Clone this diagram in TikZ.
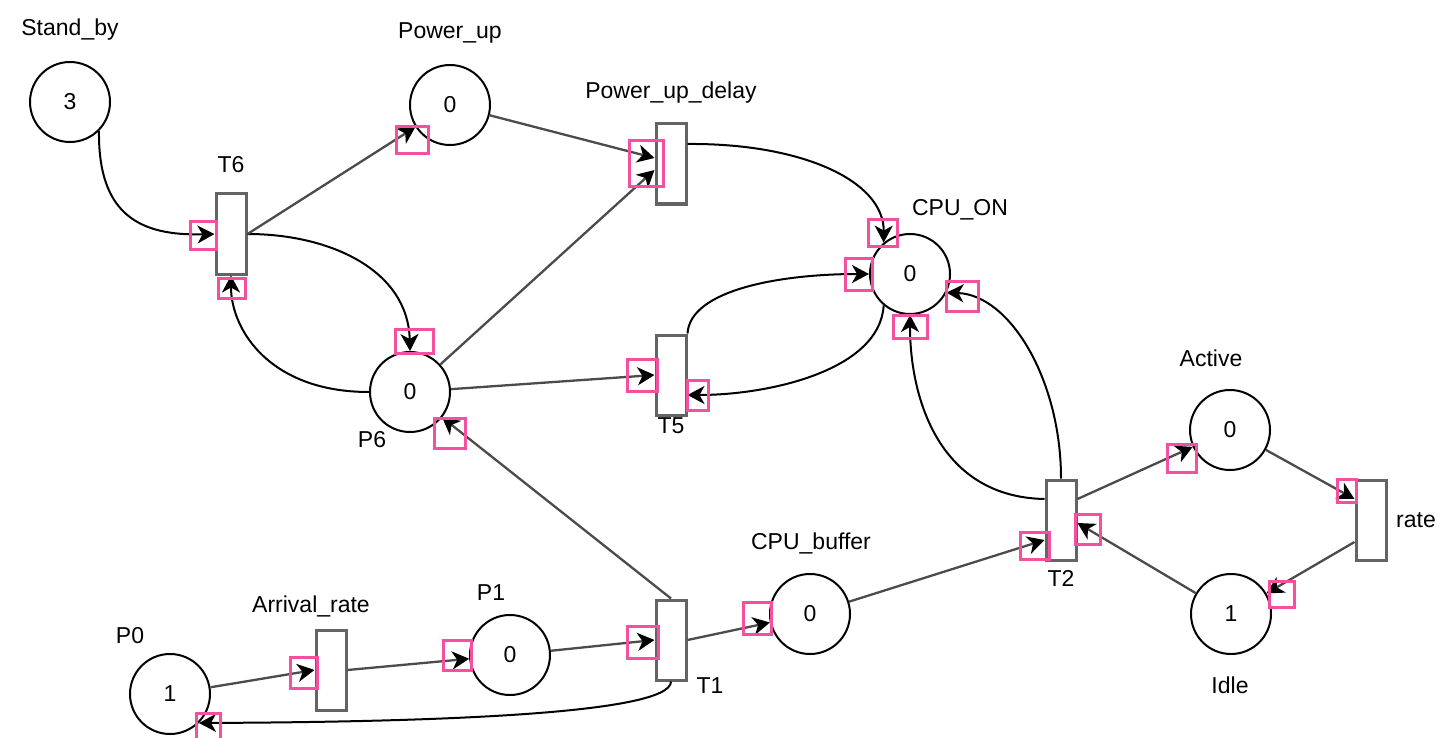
\documentclass[tikz,border=0pt]{standalone}
\usepackage{fontspec}
\setmainfont{Liberation Sans}
\usetikzlibrary{arrows.meta}
\definecolor{pinkmark}{RGB}{245,80,160}
\definecolor{edgegray}{RGB}{75,75,75}
\definecolor{transgray}{RGB}{100,100,100}
\begin{document}
\begin{tikzpicture}[x=1pt,y=-1pt,
  >={Stealth[length=17pt,width=18pt,inset=5pt,color=black]},
  place/.style={circle,draw=black,line width=2pt,minimum size=80pt,inner sep=0pt,font=\fontsize{23}{26}\selectfont},
  trans/.style={rectangle,draw=transgray,line width=3pt,fill=white,minimum width=30pt,minimum height=80pt,inner sep=0pt},
  lbl/.style={font=\fontsize{23}{27}\selectfont,inner sep=0pt},
  arc/.style={line width=2.3pt,draw=edgegray,->},
  carc/.style={line width=2pt,draw=black,->},
  pinkbox/.style={draw=pinkmark,line width=3pt}]
\useasboundingbox (0,0) rectangle (1450,738);
% places
\node[place] (standby) at (70,102) {3};
\node[place] (powerup) at (450,105) {0};
\node[place] (cpuon) at (910,274) {0};
\node[place] (p6) at (410,392) {0};
\node[place] (active) at (1230,430) {0};
\node[place] (idle) at (1231,614) {1};
\node[place] (cpubuf) at (810,614) {0};
\node[place] (p1) at (510,655) {0};
\node[place] (p0) at (170,694) {1};
% transitions
\node[trans] (t6) at (231,234) {};
\node[trans] (pud) at (671,164) {};
\node[trans] (t5) at (671,375) {};
\node[trans] (t2) at (1061,520) {};
\node[trans] (rate) at (1371,520) {};
\node[trans] (t1) at (671,640) {};
\node[trans] (arr) at (331,670) {};
% labels
\node[lbl] (lstandby) at (70,30) {Stand\_by};
\node[lbl] (lpowerup) at (450,33) {Power\_up};
\node[lbl] (lt6) at (231,165) {T6};
\node[lbl] (lpud) at (671,93) {Power\_up\_delay};
\node[lbl] (lcpuon) at (960,210) {CPU\_ON};
\node[lbl] (lp6) at (372,440) {P6};
\node[lbl] (lt5) at (671,426) {T5};
\node[lbl] (lactive) at (1211,358) {Active};
\node[lbl] (lrate) at (1416,520) {rate};
\node[lbl] (lt2) at (1061,578) {T2};
\node[lbl] (lcpubuf) at (811,543) {CPU\_buffer};
\node[lbl] (lidle) at (1230,685) {Idle};
\node[lbl] (lp1) at (491,593) {P1};
\node[lbl] (larr) at (311,606) {Arrival\_rate};
\node[lbl] (lp0) at (130,636) {P0};
\node[lbl] (lt1) at (710,686) {T1};
% curved arcs
\draw[carc] (standby.-45) .. controls (98,215) and (140,236) .. (t6.west);
\draw[carc] (t6.east) .. controls (330,234) and (408,270) .. (p6.north);
\draw[carc] (p6.west) .. controls (270,392) and (231,330) .. (t6.south);
\draw[carc] ([yshift=20pt]pud.east) .. controls (800,143) and (884,180) .. (cpuon.130);
\draw[carc] (t5.north east) .. controls (690,290) and (780,274) .. (cpuon.west);
\draw[carc] (cpuon.230) .. controls (880,370) and (770,395) .. ([yshift=-20pt]t5.east);
\draw[carc] ([yshift=21pt]t2.west) .. controls (940,497) and (910,400) .. (cpuon.south);
\draw[carc] (t2.north) .. controls (1061,380) and (1010,295) .. (cpuon.-27);
\draw[carc] (t1.south) .. controls (671,715) and (420,722) .. (p0.-45);
% straight arcs
\draw[arc] (t6.east) -- (powerup);
\draw[arc] (powerup) -- ([yshift=6pt]pud.west);
\draw[arc] (p6) -- ([yshift=-6pt]pud.west);
\draw[arc] (p6) -- (t5.west);
\draw[arc] ([yshift=21pt]t2.east) -- (active);
\draw[arc] (active) -- ([yshift=21pt]rate.west);
\draw[arc] ([yshift=-22pt]rate.west) -- (idle);
\draw[arc] (idle) -- ([yshift=-3pt]t2.east);
\draw[arc] (cpubuf) -- ([yshift=-20pt]t2.west);
\draw[arc] (t1.east) -- (cpubuf);
\draw[arc] (t1.north) -- (p6);
\draw[arc] (p1) -- (t1.west);
\draw[arc] (arr.east) -- (p1);
\draw[arc] (p0) -- (arr.west);
% pink highlight marks
\draw[pinkbox] (190,221) rectangle (216,249);
\draw[pinkbox] (218,278) rectangle (245,298);
\draw[pinkbox] (395,329) rectangle (433,353);
\draw[pinkbox] (396,127) rectangle (428,154);
\draw[pinkbox] (629,141) rectangle (663,187);
\draw[pinkbox] (868,219) rectangle (897,246);
\draw[pinkbox] (845,258) rectangle (872,290);
\draw[pinkbox] (946,281) rectangle (978,311);
\draw[pinkbox] (893,315) rectangle (927,338);
\draw[pinkbox] (627,359) rectangle (657,391);
\draw[pinkbox] (687,380) rectangle (708,410);
\draw[pinkbox] (434,418) rectangle (465,448);
\draw[pinkbox] (1167,444) rectangle (1196,472);
\draw[pinkbox] (1337,479) rectangle (1356,502);
\draw[pinkbox] (1075,514) rectangle (1100,544);
\draw[pinkbox] (1020,532) rectangle (1049,559);
\draw[pinkbox] (1269,581) rectangle (1294,607);
\draw[pinkbox] (627,626) rectangle (658,658);
\draw[pinkbox] (743,602) rectangle (771,634);
\draw[pinkbox] (443,640) rectangle (471,670);
\draw[pinkbox] (290,657) rectangle (317,688);
\draw[pinkbox] (196,713) rectangle (220,740);
\end{tikzpicture}
\end{document}
